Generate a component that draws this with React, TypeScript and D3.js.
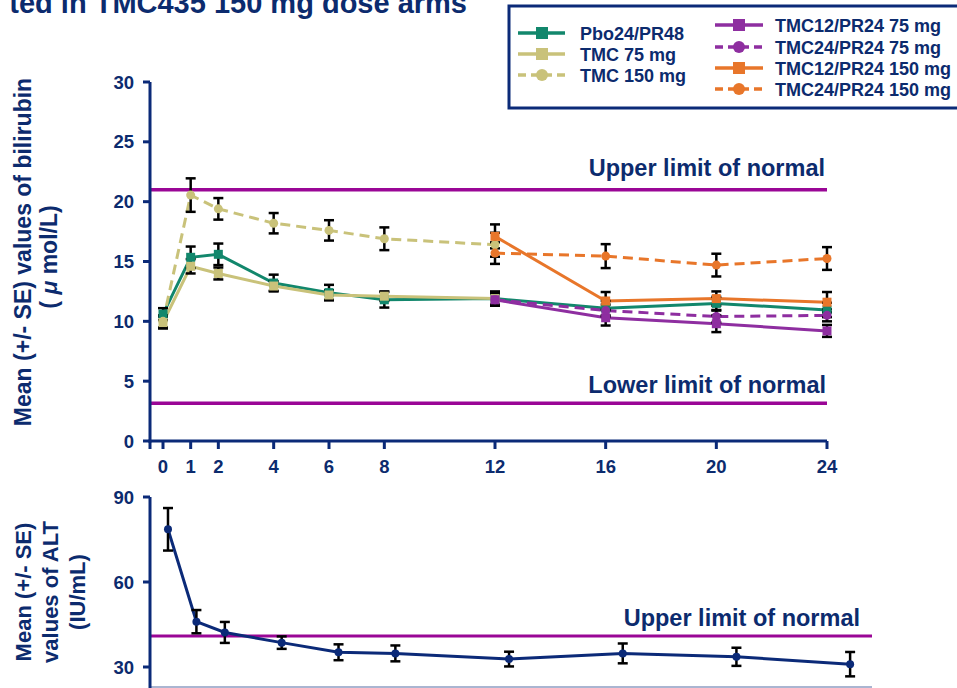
import React from 'react';
import * as d3 from 'd3';

// bilirubin panel
const weeksAll = [0, 1, 2, 4, 6, 8, 12, 16, 20, 24];
const weeksLead = [0, 1, 2, 4, 6, 8, 12];
const weeksTail = [12, 16, 20, 24];
const xTicks = [0, 1, 2, 4, 6, 8, 12, 16, 20, 24];
const yTicksBili = [0, 5, 10, 15, 20, 25, 30];

const pboMean = [10.6, 15.35, 15.6, 13.2, 12.4, 11.8, 11.9, 11.1, 11.5, 10.95];
const pboSE = [0.5, 0.9, 0.9, 0.7, 0.65, 0.65, 0.6, 0.6, 0.55, 0.6];
const tmc75Mean = [9.9, 14.6, 14.0, 12.95, 12.2, 12.1, 11.9];
const tmc75SE = [0.5, 0.6, 0.5, 0.4, 0.4, 0.4, 0.5];
const tmc150Mean = [10.0, 20.55, 19.4, 18.2, 17.6, 16.9, 16.4];
const tmc150SE = [0.5, 1.4, 0.9, 0.85, 0.85, 0.95, 1.0];
const t12p24_75Mean = [11.8, 10.3, 9.8, 9.2];
const t12p24_75SE = [0.5, 0.65, 0.7, 0.5];
const t24p24_75Mean = [11.8, 10.9, 10.4, 10.5];
const t24p24_75SE = [0.5, 0.5, 0.5, 0.5];
const t12p24_150Mean = [17.1, 11.7, 11.9, 11.6];
const t12p24_150SE = [1.0, 0.75, 0.6, 0.85];
const t24p24_150Mean = [15.7, 15.45, 14.7, 15.25];
const t24p24_150SE = [0.9, 1.0, 0.95, 0.95];

const biliULN = 21;
const biliLLN = 3.15;

// ALT panel
const altMean = [78.6, 46.0, 42.2, 38.6, 35.2, 34.8, 32.8, 34.8, 33.6, 31.0];
const altSE = [7.5, 4.1, 3.7, 2.2, 2.8, 2.8, 2.6, 3.5, 3.2, 4.3];
const yTicksAlt = [30, 60, 90];
const altULN = 40.9;

const NAVY = '#0b2a78';
const TEXT = '#0c2b6e';
const ULN_COL = '#9a0696';
const TEAL = '#12876c';
const KHAKI = '#c9c27a';
const PURPLE = '#8e2ea0';
const ORANGE = '#e8762a';
const FONT = '"Liberation Sans", Arial, sans-serif';

const series = [
  { name: 'Pbo24/PR48', weeks: weeksAll, mean: pboMean, se: pboSE, color: TEAL, dashed: false, marker: 'square' },
  { name: 'TMC 75 mg', weeks: weeksLead, mean: tmc75Mean, se: tmc75SE, color: KHAKI, dashed: false, marker: 'square' },
  { name: 'TMC 150 mg', weeks: weeksLead, mean: tmc150Mean, se: tmc150SE, color: KHAKI, dashed: true, marker: 'circle' },
  { name: 'TMC12/PR24 75 mg', weeks: weeksTail, mean: t12p24_75Mean, se: t12p24_75SE, color: PURPLE, dashed: false, marker: 'square' },
  { name: 'TMC24/PR24 75 mg', weeks: weeksTail, mean: t24p24_75Mean, se: t24p24_75SE, color: PURPLE, dashed: true, marker: 'circle' },
  { name: 'TMC12/PR24 150 mg', weeks: weeksTail, mean: t12p24_150Mean, se: t12p24_150SE, color: ORANGE, dashed: false, marker: 'square' },
  { name: 'TMC24/PR24 150 mg', weeks: weeksTail, mean: t24p24_150Mean, se: t24p24_150SE, color: ORANGE, dashed: true, marker: 'circle' },
];

const Marker = ({ type, x, y, color, size = 9 }) =>
  type === 'square' ? (
    <rect x={x - size / 2} y={y - size / 2} width={size} height={size} fill={color} />
  ) : (
    <circle cx={x} cy={y} r={size / 2} fill={color} />
  );

const ErrBar = ({ x, y1, y2 }) => (
  <g stroke="#000" strokeWidth={2.5}>
    <line x1={x} x2={x} y1={y1} y2={y2} />
    <line x1={x - 5} x2={x + 5} y1={y1} y2={y1} />
    <line x1={x - 5} x2={x + 5} y1={y2} y2={y2} />
  </g>
);

export default function App() {
  const W = 957;
  const H = 688;

  const x = d3.scaleLinear().domain([-0.47, 24]).range([150, 827]);
  const y = d3.scaleLinear().domain([0, 30]).range([441, 82]);
  const x2 = d3.scaleLinear().domain([-0.633, 24.77]).range([150, 872]);
  const y2 = d3.scaleLinear().domain([30, 90]).range([667, 497]);

  const line = d3.line();

  const legendLeft = series.slice(0, 3);
  const legendRight = series.slice(3);
  const lRowsL = [33, 54, 75];
  const lRowsR = [25, 47, 68, 89];

  const altPath = line(weeksAll.map((w, i) => [x2(w), y2(altMean[i])]));

  return (
    <svg width={W} height={H} style={{ position: 'absolute', left: 0, top: 0 }} fontFamily={FONT}>
      <rect width={W} height={H} fill="#fff" />
      {/* title (cut off in source) */}
      <text x={467} y={13} textAnchor="end" fontSize={29} fontWeight="bold" fill={TEXT}>
        ted in TMC435 150 mg dose arms
      </text>

      {/* ===== bilirubin panel ===== */}
      <line x1={x(-0.47)} x2={x(24)} y1={y(biliULN)} y2={y(biliULN)} stroke={ULN_COL} strokeWidth={3.5} />
      <line x1={x(-0.47)} x2={x(24)} y1={y(biliLLN)} y2={y(biliLLN)} stroke={ULN_COL} strokeWidth={3.5} />
      <text x={825} y={176} textAnchor="end" fontSize={23.5} fontWeight="bold" fill={TEXT}>Upper limit of normal</text>
      <text x={826} y={393} textAnchor="end" fontSize={23.5} fontWeight="bold" fill={TEXT}>Lower limit of normal</text>

      {/* axes */}
      <g stroke={NAVY} strokeWidth={3}>
        <line x1={150} x2={150} y1={y(30)} y2={y(0) + 1.5} />
        <line x1={x(-0.47) - 1.5} x2={x(24)} y1={y(0)} y2={y(0)} />
        {yTicksBili.map((t) => (
          <line key={t} x1={143} x2={150} y1={y(t)} y2={y(t)} />
        ))}
        {[-0.47, ...xTicks].map((t) => (
          <line key={t} x1={x(t)} x2={x(t)} y1={y(0)} y2={y(0) + 8} />
        ))}
      </g>
      {yTicksBili.map((t) => (
        <text key={t} x={134} y={y(t) + 6.5} textAnchor="end" fontSize={18.5} fontWeight="bold" fill={TEXT}>{t}</text>
      ))}
      {xTicks.map((t) => (
        <text key={t} x={x(t)} y={473} textAnchor="middle" fontSize={18.5} fontWeight="bold" fill={TEXT}>{t}</text>
      ))}
      <text transform="translate(31,252) rotate(-90)" textAnchor="middle" fontSize={23} fontWeight="bold" fill={TEXT}>
        Mean (+/- SE) values of bilirubin
      </text>
      <text transform="translate(57,257) rotate(-90)" textAnchor="middle" fontSize={23} fontWeight="bold" fill={TEXT}>
        ( <tspan fontStyle="italic">μ</tspan> mol/L)
      </text>

      {/* series lines */}
      {series.map((s) => (
        <path
          key={s.name}
          d={line(s.weeks.map((w, i) => [x(w), y(s.mean[i])]))}
          fill="none"
          stroke={s.color}
          strokeWidth={3}
          strokeDasharray={s.dashed ? '10,6' : null}
        />
      ))}
      {series.map((s) =>
        s.weeks.map((w, i) => (
          <ErrBar key={s.name + w} x={x(w)} y1={y(s.mean[i] + s.se[i])} y2={y(s.mean[i] - s.se[i])} />
        ))
      )}
      {series.map((s) =>
        s.weeks.map((w, i) => (
          <Marker key={s.name + 'm' + w} type={s.marker} x={x(w)} y={y(s.mean[i])} color={s.color} />
        ))
      )}

      {/* legend */}
      <rect x={509} y={6} width={480} height={102} fill="#fff" stroke={NAVY} strokeWidth={3} />
      {legendLeft.map((s, i) => (
        <g key={s.name}>
          <line x1={518} x2={565} y1={lRowsL[i]} y2={lRowsL[i]} stroke={s.color} strokeWidth={3.5} strokeDasharray={s.dashed ? '8,5' : null} />
          <Marker type={s.marker} x={542} y={lRowsL[i]} color={s.color} size={12} />
          <text x={580} y={lRowsL[i] + 6.5} fontSize={18} fontWeight="bold" fill={TEXT}>{s.name}</text>
        </g>
      ))}
      {legendRight.map((s, i) => (
        <g key={s.name}>
          <line x1={715} x2={763} y1={lRowsR[i]} y2={lRowsR[i]} stroke={s.color} strokeWidth={3.5} strokeDasharray={s.dashed ? '8,5' : null} />
          <Marker type={s.marker} x={739} y={lRowsR[i]} color={s.color} size={12} />
          <text x={775} y={lRowsR[i] + 6.5} fontSize={18} fontWeight="bold" fill={TEXT}>{s.name}</text>
        </g>
      ))}

      {/* ===== ALT panel ===== */}
      <line x1={150} x2={872} y1={y2(altULN)} y2={y2(altULN)} stroke={ULN_COL} strokeWidth={3} />
      <text x={860} y={626} textAnchor="end" fontSize={23.5} fontWeight="bold" fill={TEXT}>Upper limit of normal</text>
      <line x1={150} x2={872} y1={687} y2={687} stroke="#8e9cc2" strokeWidth={1.5} />
      <g stroke={NAVY} strokeWidth={3}>
        <line x1={150} x2={150} y1={y2(90)} y2={H} />
        {yTicksAlt.map((t) => (
          <line key={t} x1={143} x2={150} y1={y2(t)} y2={y2(t)} />
        ))}
      </g>
      {yTicksAlt.map((t) => (
        <text key={t} x={134} y={y2(t) + 6.5} textAnchor="end" fontSize={18.5} fontWeight="bold" fill={TEXT}>{t}</text>
      ))}
      {['Mean (+/- SE)', 'values of ALT', '(IU/mL)'].map((l, i) => (
        <text key={l} transform={`translate(${31 + i * 27},592) rotate(-90)`} textAnchor="middle" fontSize={22} fontWeight="bold" fill={TEXT}>
          {l}
        </text>
      ))}
      <path d={altPath} fill="none" stroke={NAVY} strokeWidth={3} />
      {weeksAll.map((w, i) => (
        <ErrBar key={'alt' + w} x={x2(w)} y1={y2(altMean[i] + altSE[i])} y2={y2(altMean[i] - altSE[i])} />
      ))}
      {weeksAll.map((w, i) => (
        <circle key={'altm' + w} cx={x2(w)} cy={y2(altMean[i])} r={4} fill={NAVY} />
      ))}
    </svg>
  );
}
